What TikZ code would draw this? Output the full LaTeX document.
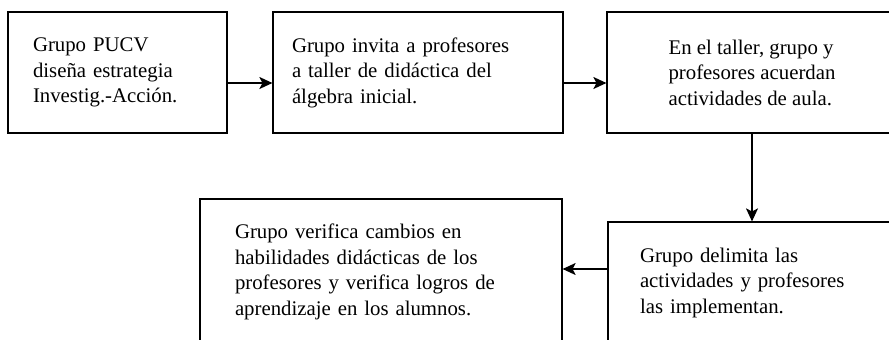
\documentclass[tikz,border=0pt]{standalone}
\usepackage{fontspec}
\setmainfont{Liberation Serif}
\usetikzlibrary{arrows.meta}

\tikzset{
	paso/.style={draw, line width=0.6pt, align=left, inner ysep=0pt,
		font=\fontsize{10.4pt}{12.75pt}\selectfont},
	flecha/.style={line width=0.6pt, -{Stealth[length=6.5pt, width=6pt, inset=1.5pt]}}
}

\begin{document}
\begin{tikzpicture}[x=0.5pt, y=0.5pt]
	\useasboundingbox (0,0) rectangle (889,339);
	\clip (0,0) rectangle (889,339);
	% fila de arriba
	\node[paso, text width=84.5pt, inner xsep=12.5pt, minimum height=60.5pt] (diseno) at (117.5,266.5)
		{Grupo PUCV\\ diseña estrategia\\ Investig.-Acción.};
	\node[paso, text width=126pt, inner xsep=9.5pt, minimum height=60.5pt] (taller) at (418,266.5)
		{Grupo invita a profesores\\ a taller de didáctica del\\ álgebra inicial.};
	\node[paso, minimum width=145pt, minimum height=60.5pt] (acuerdo) at (752,266.5)
		{En el taller, grupo y\\ profesores acuerdan\\ actividades de aula.};
	% fila de abajo
	\node[paso, text width=113pt, inner xsep=16pt, minimum height=60.5pt] (implementa) at (753,56.5)
		{Grupo delimita las\\ actividades y profesores\\ las implementan.};
	\node[paso, text width=146pt, inner xsep=17.5pt, minimum height=73pt] (verifica) at (381,67)
		{Grupo verifica cambios en\\ habilidades didácticas de los\\ profesores y verifica logros de\\ aprendizaje en los alumnos.};
	\draw[flecha] ([yshift=-5.25pt]diseno.east) -- ([yshift=-5.25pt]taller.west);
	\draw[flecha] ([yshift=-5.25pt]taller.east) -- ([yshift=-5.25pt]acuerdo.west);
	\draw[flecha] (acuerdo.south) -- (acuerdo.south |- implementa.north);
	\draw[flecha] ([yshift=6.75pt]implementa.west) -- ([yshift=6.75pt]implementa.west -| verifica.east);
\end{tikzpicture}
\end{document}
